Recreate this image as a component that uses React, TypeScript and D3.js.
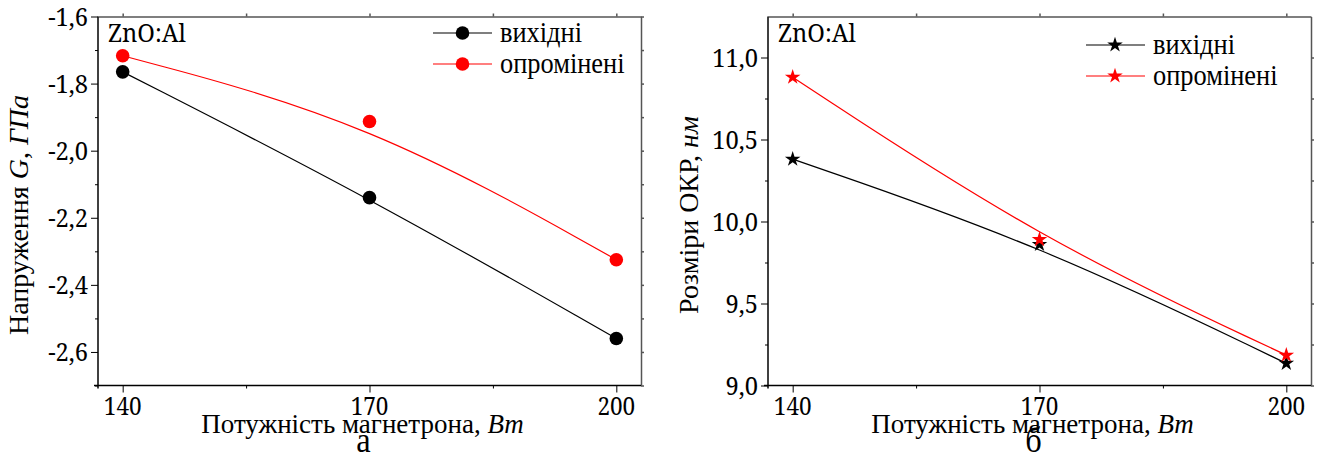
import React, { useEffect, useRef } from "react";
import * as d3 from "d3";

// magnetron power, W
const powers = [140, 170, 200];
// panel a: stress G, GPa
const stressInitial = [-1.765, -2.14, -2.56];
const stressIrradiated = [-1.717, -1.913, -2.325];
// panel b: crystallite size, nm
const sizeInitial = [10.38, 9.86, 9.135];
const sizeIrradiated = [10.88, 9.89, 9.185];

const xTicks = [140, 170, 200];
const xMinor = [155, 185];
const stressTicks = [-2.6, -2.4, -2.2, -2.0, -1.8, -1.6];
const stressMinor = [-2.7, -2.5, -2.3, -2.1, -1.9, -1.7];
const sizeTicks = [9.0, 9.5, 10.0, 10.5, 11.0];
const sizeMinor = [9.25, 9.75, 10.25, 10.75];
const seriesNames = ["вихідні", "опромінені"];
const seriesColors = ["#000000", "#ff0000"];

// Liberation Serif draws Cyrillic fine here, but its Latin/digits come out sans at small sizes,
// so numbers and Latin labels use Noto Serif, slightly narrowed
const FONT = "Liberation Serif, Times New Roman, serif";
const NUM_FONT = "Noto Serif, DejaVu Serif, serif";
const uaLocale = d3.formatLocale({
  decimal: ",",
  thousands: " ",
  grouping: [3],
  currency: ["", ""],
  minus: "-",
});
const fmt1 = uaLocale.format(".1f");

const addText = (parent: any, x: number, y: number, size: number,
  opts: { anchor?: string; sx?: number; rotate?: number; font?: string } = {}) => {
  const sx = opts.sx ?? 1;
  return parent.append("text")
    .attr("transform", `translate(${x},${y})${opts.rotate ? ` rotate(${opts.rotate})` : ""} scale(${sx},1)`)
    .attr("text-anchor", opts.anchor ?? "start")
    .style("font-family", opts.font ?? FONT)
    .style("font-size", `${size}px`)
    .attr("fill", "#000");
};

type PanelProps = {
  left: number;
  series: number[][];
  yDomain: [number, number];
  yTicks: number[];
  yMinor: number[];
  marker: "circle" | "star";
  yTitle: [string, boolean][];
  legendX: number;
  legendY: number;
  sub: string;
};

const Panel = ({ left, series, yDomain, yTicks, yMinor, marker, yTitle, legendX, legendY, sub }: PanelProps) => {
  const ref = useRef<SVGGElement>(null);

  useEffect(() => {
    const g = d3.select(ref.current);
    g.selectAll("*").remove();

    const width = 543;
    const height = 369;
    const top = 16.5;
    const bottom = top + height;

    const x = d3.scaleLinear().domain([137, 203]).range([left, left + width]);
    const y = d3.scaleLinear().domain(yDomain).range([bottom, top]);

    // frame: top and right in grey, small outward ticks
    const frame = g.append("g").attr("color", "#555");
    frame.append("g")
      .attr("transform", `translate(0,${top})`)
      .call(d3.axisTop(x).tickValues(xTicks.concat(xMinor)).tickSize(3).tickFormat(() => "").tickSizeOuter(0))
      .attr("stroke-width", 1.5);
    frame.append("g")
      .attr("transform", `translate(${left + width},0)`)
      .call(d3.axisRight(y).tickValues(yTicks.concat(yMinor)).tickSize(3).tickFormat(() => "").tickSizeOuter(0))
      .attr("stroke-width", 1.5);

    // bottom axis (labels added separately)
    const bx = g.append("g").attr("transform", `translate(0,${bottom})`);
    bx.call(d3.axisBottom(x).tickValues(xTicks).tickSize(7).tickSizeOuter(0).tickFormat(() => ""));
    bx.select(".domain").attr("d", `M${left - 4},0H${left + width}`).attr("stroke-width", 1.5);
    g.append("g").attr("transform", `translate(0,${bottom})`)
      .call(d3.axisBottom(x).tickValues(xMinor).tickSize(3).tickFormat(() => "").tickSizeOuter(0))
      .select(".domain").remove();
    xTicks.forEach(t => {
      addText(g, x(t), bottom + 29, 25, { anchor: "middle", sx: 0.9, font: NUM_FONT }).text(String(t));
    });

    // left axis
    const ly = g.append("g").attr("transform", `translate(${left},0)`);
    ly.call(d3.axisLeft(y).tickValues(yTicks).tickSize(7).tickSizeOuter(0).tickFormat(() => ""));
    ly.select(".domain").attr("d", `M0,${top}V${bottom + 3}`).attr("stroke-width", 1.5);
    g.append("g").attr("transform", `translate(${left},0)`)
      .call(d3.axisLeft(y).tickValues(yMinor).tickSize(3).tickFormat(() => "").tickSizeOuter(0))
      .select(".domain").remove();
    yTicks.forEach(t => {
      addText(g, left - 10, y(t) + 9, 25, { anchor: "end", sx: 0.95, font: NUM_FONT }).text(fmt1(t));
    });

    // lines
    const line = d3.line<number>()
      .x((_, i) => x(powers[i]))
      .y(d => y(d))
      .curve(d3.curveBasis);

    const sym = d3.symbol().type(d3.symbolStar).size(75);

    series.forEach((vals, si) => {
      g.append("path")
        .datum(vals)
        .attr("fill", "none")
        .attr("stroke", seriesColors[si])
        .attr("stroke-width", 1.2)
        .attr("d", line);
    });
    series.forEach((vals, si) => {
      vals.forEach((v, i) => {
        if (marker === "circle") {
          g.append("circle").attr("cx", x(powers[i])).attr("cy", y(v)).attr("r", 6.8).attr("fill", seriesColors[si]);
        } else {
          g.append("path").attr("d", sym()).attr("transform", `translate(${x(powers[i])},${y(v)})`).attr("fill", seriesColors[si]);
        }
      });
    });

    // legend
    seriesNames.forEach((name, si) => {
      const ry = legendY + si * 31;
      g.append("line")
        .attr("x1", legendX).attr("x2", legendX + 59)
        .attr("y1", ry).attr("y2", ry)
        .attr("stroke", seriesColors[si]).attr("stroke-width", 1.2);
      if (marker === "circle") {
        g.append("circle").attr("cx", legendX + 29.5).attr("cy", ry).attr("r", 6.8).attr("fill", seriesColors[si]);
      } else {
        g.append("path").attr("d", sym()).attr("transform", `translate(${legendX + 29},${ry})`).attr("fill", seriesColors[si]);
      }
      addText(g, legendX + 67, ry + 9, 30, { sx: 0.88 }).text(name);
    });

    // sample label
    addText(g, left + 10, top + 25, 25, { sx: 0.95, font: NUM_FONT }).text("ZnO:Al");

    // y title
    const yt = addText(g, left - 70, top + height / 2 + 14, 28, { anchor: "middle", rotate: -90 });
    yTitle.forEach(([t, it]) => {
      yt.append("tspan").attr("font-style", it ? "italic" : "normal").text(t);
    });

    // x title
    const xt = addText(g, left + width / 2 - 7, bottom + 47, 27, { anchor: "middle" });
    xt.append("tspan").text("Потужність магнетрона, ");
    xt.append("tspan").attr("font-style", "italic").text("Вт");

    addText(g, left + width / 2 - 6, 452, 36, { anchor: "middle", sx: 0.9 }).text(sub);
  }, [left, series, yDomain, yTicks, yMinor, marker, yTitle, legendX, legendY, sub]);

  return <g ref={ref}></g>;
};

const App = () => {
  return (
    <div style={{ position: "absolute", left: 0, top: 0 }}>
      <svg width={1321} height={460} style={{ display: "block", background: "#fff", fontFamily: FONT }}>
        <Panel
          left={98}
          series={[stressInitial, stressIrradiated]}
          yDomain={[-2.7, -1.6]}
          yTicks={stressTicks}
          yMinor={stressMinor}
          marker="circle"
          yTitle={[["Напруження ", false], ["G", true], [", ", false], ["ГПа", true]]}
          legendX={433}
          legendY={33}
          sub="а"
        />
        <Panel
          left={768}
          series={[sizeInitial, sizeIrradiated]}
          yDomain={[9.0, 11.25]}
          yTicks={sizeTicks}
          yMinor={sizeMinor}
          marker="star"
          yTitle={[["Розміри ОКР, ", false], ["нм", true]]}
          legendX={1086}
          legendY={45}
          sub="б"
        />
      </svg>
    </div>
  );
};

export default App;
